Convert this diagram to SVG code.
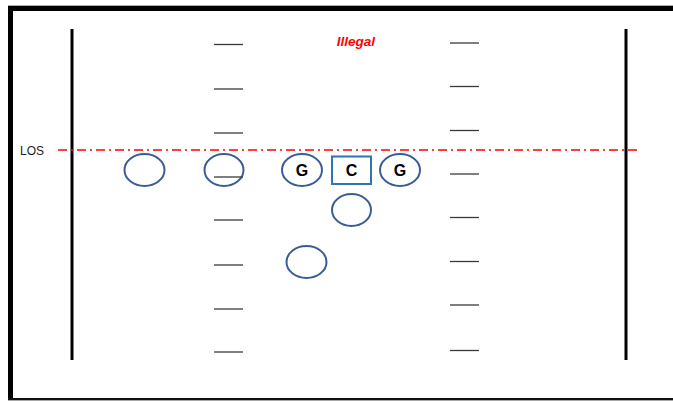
<svg xmlns="http://www.w3.org/2000/svg" width="673" height="402" viewBox="0 0 673 402">
<style>
.hash{stroke:#3a3a3a;stroke-width:1.3}
.side{stroke:#000;stroke-width:3}
.pl{fill:#fff;stroke:#3C5C99;stroke-width:2}
.lbl{font-family:"Liberation Sans",Arial,sans-serif;font-weight:bold;font-size:16px;fill:#000;text-anchor:middle}
</style>
<rect x="0" y="0" width="673" height="402" fill="#fff"/>
<g id="frame">
<line x1="8" y1="5.5" x2="673" y2="5.5" stroke="#aaa" stroke-width="1"/>
<rect x="8" y="6" width="665" height="5" fill="#000"/>
<rect x="8" y="6" width="5" height="394" fill="#000"/>
<rect x="8" y="398" width="665" height="2" fill="#111"/>
<line x1="8" y1="400.5" x2="673" y2="400.5" stroke="#aaa" stroke-width="1"/>
</g>
<g id="sidelines">
<line class="side" x1="72" y1="29" x2="72" y2="360"/>
<line class="side" x1="626" y1="29" x2="626" y2="360"/>
</g>
<g id="hashes">
<line class="hash" x1="214" y1="44.5" x2="243" y2="44.5"/>
<line class="hash" x1="214" y1="89" x2="243" y2="89"/>
<line class="hash" x1="214" y1="133" x2="243" y2="133"/>
<line class="hash" x1="214" y1="220" x2="243" y2="220"/>
<line class="hash" x1="214" y1="265" x2="243" y2="265"/>
<line class="hash" x1="214" y1="309" x2="243" y2="309"/>
<line class="hash" x1="214" y1="352" x2="243" y2="352"/>
<line class="hash" x1="450" y1="43" x2="479" y2="43"/>
<line class="hash" x1="450" y1="86.5" x2="479" y2="86.5"/>
<line class="hash" x1="450" y1="130.5" x2="479" y2="130.5"/>
<line class="hash" x1="450" y1="174" x2="479" y2="174"/>
<line class="hash" x1="450" y1="217.5" x2="479" y2="217.5"/>
<line class="hash" x1="450" y1="261.5" x2="479" y2="261.5"/>
<line class="hash" x1="450" y1="305" x2="479" y2="305"/>
<line class="hash" x1="450" y1="350.5" x2="479" y2="350.5"/>
</g>
<g id="los">
<line x1="58" y1="150" x2="640" y2="150" stroke="#FF0000" stroke-width="1.6" stroke-dasharray="9 4 2 4"/>
<text x="20" y="155" font-family="'Liberation Sans',Arial,sans-serif" font-size="12" fill="#222">LOS</text>
</g>
<g id="illegal">
<text x="356" y="46" font-family="'Liberation Sans',Arial,sans-serif" font-size="13.5" font-weight="bold" font-style="italic" fill="#FF0000" text-anchor="middle">Illegal</text>
</g>
<g id="p1"><ellipse class="pl" cx="144.5" cy="170" rx="20" ry="16"/></g>
<g id="p2"><ellipse class="pl" cx="224" cy="170" rx="19.5" ry="16"/><line class="hash" x1="214" y1="177" x2="243" y2="177" stroke="#777"/></g>
<g id="g1"><ellipse class="pl" cx="302" cy="170" rx="20" ry="16"/><text class="lbl" x="302" y="176">G</text></g>
<g id="c"><rect x="332" y="156.5" width="39" height="27.5" fill="#fff" stroke="#2E75B6" stroke-width="2"/><text class="lbl" x="351.5" y="176">C</text></g>
<g id="g2"><ellipse class="pl" cx="400" cy="170" rx="20" ry="16"/><text class="lbl" x="400" y="176">G</text></g>
<g id="qb"><ellipse class="pl" cx="351.5" cy="210" rx="19.5" ry="16"/></g>
<g id="rb"><ellipse class="pl" cx="306.5" cy="262" rx="20" ry="16"/></g>
</svg>
